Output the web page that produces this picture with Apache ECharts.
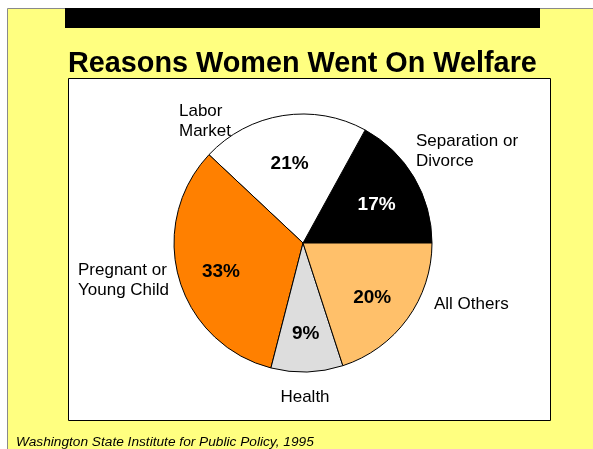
<!DOCTYPE html>
<html>
<head>
<meta charset="utf-8">
<script src="https://cdn.jsdelivr.net/npm/echarts@6/dist/echarts.min.js"></script>
<style>
  html, body { margin: 0; padding: 0; background: #ffffff; }
  #chart { width: 593px; height: 449px; }
</style>
</head>
<body>
<div id="chart"></div>
<script>
// Reasons women went on welfare (percent of cases)
const categories = ['Separation or\nDivorce', 'Labor\nMarket', 'Pregnant or\nYoung Child', 'Health', 'All Others'];
const shares = [17, 21, 33, 9, 20];
const sliceColors = ['#000000', '#ffffff', '#ff8000', '#dddddd', '#ffc06a'];
const shareLabelColors = ['#ffffff', '#000000', '#000000', '#000000', '#000000'];

// Where each category name sits beside the pie
const namePlacement = [
  { x: 416, y: 151, align: 'left' },
  { x: 179, y: 121, align: 'left' },
  { x: 78, y: 280, align: 'left' },
  { x: 305, y: 397, align: 'center' },
  { x: 434, y: 304, align: 'left' }
];

const FONT = '"Liberation Sans", Arial, sans-serif';
const chart = echarts.init(document.getElementById('chart'), null, { renderer: 'canvas' });

const sliceData = categories.map((name, i) => ({
  name: name,
  value: shares[i],
  itemStyle: { color: sliceColors[i] }
}));

const shareData = categories.map((name, i) => ({
  name: name,
  value: shares[i],
  label: { color: shareLabelColors[i] }
}));

chart.setOption({
  animation: false,
  backgroundColor: '#ffffff',
  graphic: [
    { type: 'rect', z: 0, shape: { x: 7.5, y: 8.5, width: 600, height: 450 },
      style: { fill: '#ffff80', stroke: '#8a8a8a', lineWidth: 1 } },
    { type: 'rect', z: 1, shape: { x: 65, y: 8, width: 475, height: 20 },
      style: { fill: '#000000' } },
    { type: 'rect', z: 1, shape: { x: 68.5, y: 78.5, width: 482, height: 342 },
      style: { fill: '#ffffff', stroke: '#000000', lineWidth: 1 } }
  ],
  title: [
    {
      text: 'Reasons Women Went On Welfare',
      left: 68, top: 50, padding: 0,
      textStyle: { fontFamily: FONT, fontSize: 28.8, fontWeight: 'bold', color: '#000000' }
    },
    {
      text: 'Washington State Institute for Public Policy, 1995',
      left: 16, top: 435, padding: 0,
      textStyle: { fontFamily: FONT, fontSize: 13.7, fontStyle: 'italic', fontWeight: 'normal', color: '#000000' }
    }
  ],
  series: [
    {
      type: 'pie',
      z: 3,
      center: [303, 243],
      radius: 129,
      startAngle: 0,
      clockwise: false,
      silent: true,
      data: sliceData,
      itemStyle: { borderColor: '#000000', borderWidth: 1 },
      label: {
        show: true,
        position: 'outside',
        fontFamily: FONT,
        fontSize: 17,
        lineHeight: 20,
        color: '#000000'
      },
      labelLine: { show: false },
      labelLayout: function (params) {
        const p = namePlacement[params.dataIndex];
        return { x: p.x, y: p.y, align: p.align, verticalAlign: 'middle' };
      }
    },
    {
      type: 'pie',
      z: 4,
      center: [303, 248],
      radius: [36, 129],
      startAngle: 0,
      clockwise: false,
      silent: true,
      data: shareData,
      itemStyle: { color: 'rgba(0,0,0,0)', borderWidth: 0 },
      label: {
        show: true,
        position: 'inside',
        formatter: '{c}%',
        fontFamily: FONT,
        fontSize: 19,
        fontWeight: 'bold'
      },
      labelLine: { show: false }
    }
  ]
});
</script>
</body>
</html>
